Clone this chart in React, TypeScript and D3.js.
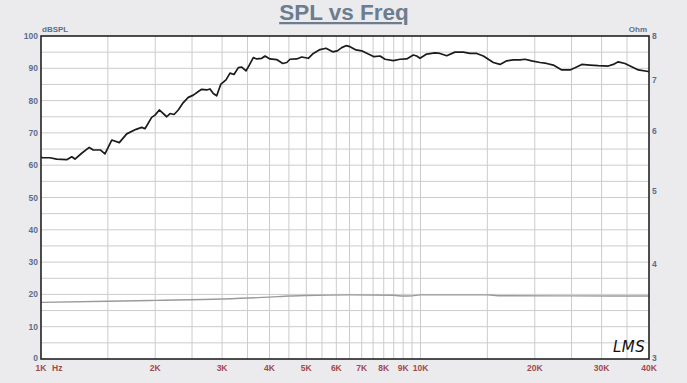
import React from 'react';
import * as d3 from 'd3';

// SPL curve (frequency in Hz, level in dBSPL)
const splFreq = [1000, 1010, 1056, 1100, 1169, 1205, 1229, 1280, 1340, 1373, 1436, 1474, 1536, 1608, 1682, 1780, 1842, 1879, 1957, 1997, 2050, 2144, 2188, 2241, 2300, 2371, 2444, 2520, 2597, 2651, 2733, 2788, 2844, 2904, 2975, 3072, 3148, 3225, 3311, 3380, 3469, 3539, 3626, 3702, 3816, 3893, 4012, 4179, 4335, 4441, 4531, 4719, 4864, 5062, 5218, 5434, 5636, 5870, 6037, 6200, 6363, 6520, 6761, 6998, 7287, 7543, 7823, 8065, 8479, 8831, 9195, 9572, 9772, 9970, 10383, 10918, 11256, 11722, 12325, 12965, 13503, 14064, 14640, 15091, 15555, 16201, 16873, 17563, 18292, 18853, 19633, 20649, 21505, 22385, 23559, 24775, 25538, 26600, 27965, 29410, 31241, 32206, 33197, 34574, 36010, 37497, 39833, 40000];
const splDb = [62.5, 62.3, 62.3, 61.9, 61.7, 62.6, 61.9, 63.7, 65.5, 64.7, 64.7, 63.5, 67.8, 67.0, 69.7, 71.1, 71.7, 71.3, 74.8, 75.5, 77.1, 75.0, 76.0, 75.7, 77.1, 79.4, 81.0, 81.7, 82.8, 83.5, 83.3, 83.6, 82.2, 81.5, 85.0, 86.4, 88.5, 88.1, 90.2, 90.4, 89.2, 91.0, 93.3, 92.9, 93.1, 93.8, 92.9, 92.7, 91.5, 91.8, 92.8, 92.9, 93.5, 93.1, 94.6, 95.8, 96.2, 95.1, 95.4, 96.4, 97.0, 96.7, 95.7, 95.4, 94.4, 93.6, 93.8, 92.8, 92.4, 92.8, 92.9, 94.1, 93.8, 93.1, 94.4, 94.8, 94.6, 93.9, 95.0, 95.0, 94.6, 94.6, 93.8, 92.8, 91.8, 91.2, 92.3, 92.6, 92.6, 92.8, 92.3, 91.8, 91.5, 91.0, 89.5, 89.5, 90.2, 91.2, 91.0, 90.8, 90.7, 91.2, 92.0, 91.5, 90.5, 89.5, 89.0, 89.0];

// Impedance curve (frequency in Hz, ohm)
const impFreq = [1000, 1500, 2000, 3000, 4000, 4500, 5000, 6500, 8500, 9000, 9500, 10000, 15000, 16000, 25000, 40000];
const impOhm = [3.563, 3.575, 3.585, 3.600, 3.620, 3.632, 3.638, 3.645, 3.640, 3.632, 3.634, 3.645, 3.645, 3.636, 3.634, 3.632];

const dbTicks = [0, 10, 20, 30, 40, 50, 60, 70, 80, 90, 100];
const dbGrid = [5, 10, 15, 20, 25, 30, 35, 40, 45, 50, 55, 60, 65, 70, 75, 80, 85, 90, 95];
const ohmTicks = [3, 4, 5, 6, 7, 8];
const freqTicks = [1000, 2000, 3000, 4000, 5000, 6000, 7000, 8000, 9000, 10000, 20000, 30000, 40000];
const freqLabels = ['1K', '2K', '3K', '4K', '5K', '6K', '7K', '8K', '9K', '10K', '20K', '30K', '40K'];
const freqGrid = [1500, 2000, 2500, 3000, 3500, 4000, 4500, 5000, 5500, 6000, 6500, 7000, 7500, 8000, 8500, 9000, 9500, 10000, 15000, 20000, 25000, 30000, 35000];

const W = 687;
const H = 383;
const L = 41;
const R = 649;
const T = 36;
const B = 359;

export default function App() {
  const x = d3.scaleLog().domain([1000, 40000]).range([L, R]);
  const y = d3.scaleLinear().domain([0, 100]).range([B, T]);
  const yOhm = d3.scaleLog().domain([3, 8]).range([B, T]);

  const splLine = d3.line<number>()
    .x((_, i) => x(splFreq[i]))
    .y((d) => y(d))(splDb) as string;
  const impLine = d3.line<number>()
    .x((_, i) => x(impFreq[i]))
    .y((d) => yOhm(d))
    .curve(d3.curveMonotoneX)(impOhm) as string;

  const font = 'Arial, "Liberation Sans", sans-serif';
  const blue = '#5b6e8e';
  const red = '#a2494f';

  return (
    <svg width={W} height={H} style={{ position: 'absolute', left: 0, top: 0, display: 'block' }}>
      <rect x={0} y={0} width={W} height={H} fill="#ebebed" />
      <text x={344} y={20} textAnchor="middle" fontFamily={font} fontWeight="bold" fontSize={22.5}
        fill="#6c7d90" textDecoration="underline">SPL vs Freq</text>

      <rect x={L} y={T} width={R - L} height={B - T} fill="#ffffff" />
      {dbGrid.map((d) => (
        <line key={'h' + d} x1={L} x2={R} y1={y(d)} y2={y(d)} stroke="#cccccc" strokeWidth={1} />
      ))}
      {freqGrid.map((f) => (
        <line key={'v' + f} x1={x(f)} x2={x(f)} y1={T} y2={B} stroke="#cccccc" strokeWidth={1} />
      ))}

      <path d={impLine} fill="none" stroke="#9a9a9a" strokeWidth={1.4} />
      <path d={splLine} fill="none" stroke="#1b1b1b" strokeWidth={1.7} strokeLinejoin="round" />

      <rect x={L} y={T} width={R - L} height={B - T} fill="none" stroke="#222" strokeWidth={1.6} />

      {dbTicks.map((d) => (
        <text key={'ly' + d} x={38} y={y(d) + (d === 0 ? 1.5 : 3)} textAnchor="end" fontFamily={font} fontWeight="bold"
          fontSize={8.5} fill={blue}>{d}</text>
      ))}
      <text x={42} y={32} fontFamily={font} fontWeight="bold" fontSize={8} fill={blue}>dBSPL</text>

      {ohmTicks.map((d) => (
        <text key={'ry' + d} x={652} y={yOhm(d) + (d === 3 ? 1.5 : 3)} textAnchor="start" fontFamily={font} fontWeight="bold"
          fontSize={8.5} fill={blue}>{d}</text>
      ))}
      <text x={647} y={32} textAnchor="end" fontFamily={font} fontWeight="bold" fontSize={8} fill={blue}>Ohm</text>

      {freqTicks.map((f, i) => (
        <text key={'bx' + f} x={x(f)} y={370.5} textAnchor="middle" fontFamily={font} fontWeight="bold"
          fontSize={8.5} fill={red}>{freqLabels[i]}</text>
      ))}
      <text x={52} y={370.5} fontFamily={font} fontWeight="bold" fontSize={8.5} fill={red}>Hz</text>

      <text x={613} y={352} fontFamily='"DejaVu Sans", sans-serif' fontStyle="italic" fontSize={15}
        fill="#111" letterSpacing={0.5}>LMS</text>
    </svg>
  );
}
